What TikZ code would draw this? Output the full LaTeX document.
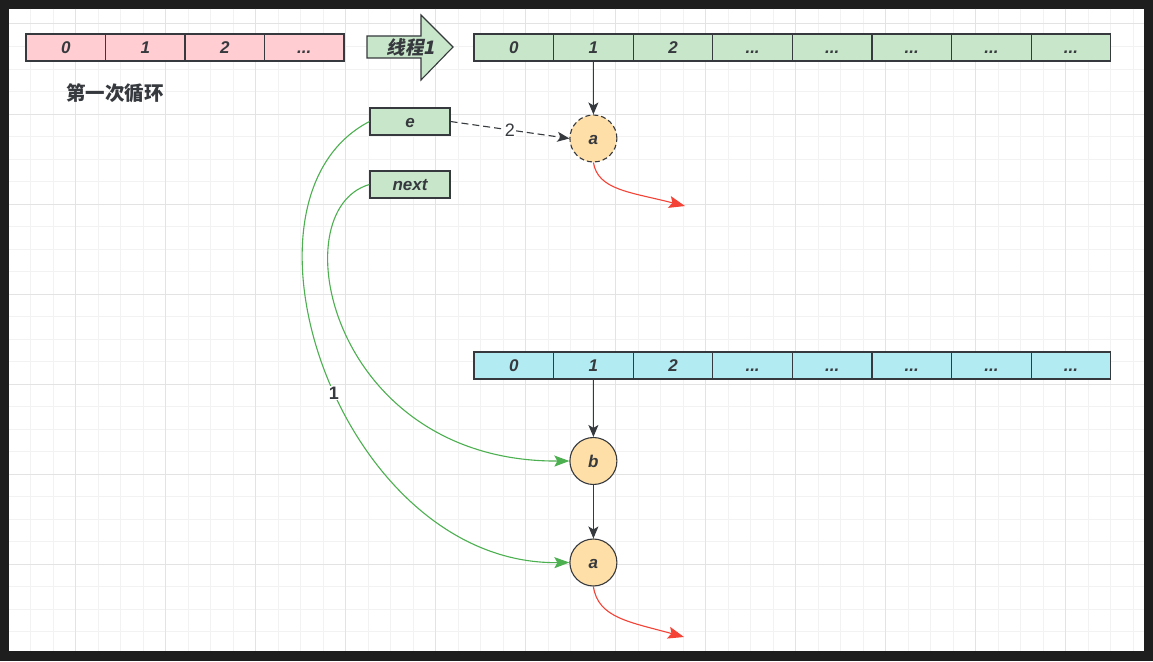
\documentclass[tikz,border=0pt]{standalone}
\usepackage{fontspec}
\newfontfamily\lblfont[BoldFeatures={FakeSlant=0.2}]{Noto Sans CJK SC}
\newfontfamily\plainfont{Noto Sans CJK SC}
\newfontfamily\latfont{Liberation Sans}
\usetikzlibrary{arrows.meta}
\newcommand\mydots{...}
\definecolor{frame}{HTML}{1E1E1E}
\definecolor{gminor}{HTML}{F2F2F2}
\definecolor{gmajor}{HTML}{E3E3E3}
\definecolor{lc}{HTML}{36393D}
\definecolor{pinkf}{HTML}{FFCDD2}
\definecolor{greenf}{HTML}{C8E6C9}
\definecolor{bluef}{HTML}{B2EBF2}
\definecolor{orangef}{HTML}{FFDFA8}
\definecolor{redl}{HTML}{F44336}
\definecolor{greenl}{HTML}{4CAF50}
\tikzset{
  lbl/.style={font=\latfont\bfseries\itshape\fontsize{17}{17}\selectfont, text=lc, text height=13pt, text depth=0.8pt},
  cell/.style={draw=lc, line width=1.1pt, minimum width=79.6pt, minimum height=27pt, inner sep=0pt, lbl},
  circ/.style={circle, draw=lc, line width=1.1pt, fill=orangef, minimum size=47pt, inner sep=0pt, lbl},
  blk/.style={draw=lc, line width=1.1pt, -{Stealth[length=12pt,width=10pt,inset=3pt]}},
  redarr/.style={draw=redl, line width=1.1pt, -{Stealth[length=16pt,width=12pt,inset=3pt]}},
  grnarr/.style={draw=greenl, line width=1.1pt, -{Stealth[length=15pt,width=11pt,inset=3pt]}},
  minorg/.style={draw=gminor, line width=1pt},
  majorg/.style={draw=gmajor, line width=1pt},
  elbl/.style={fill=white, inner sep=1pt, text=lc},
}
\begin{document}
\begin{tikzpicture}[x=1pt,y=-1pt]
% frame and background
\fill[frame] (0,0) rectangle (1153,661);
\fill[white] (9,9) rectangle (1144,651);
\useasboundingbox (0,0) rectangle (1153,661);
% grid
\foreach \k in {1,...,50} {\draw[minorg] ({8+22.5*\k},9) -- ({8+22.5*\k},651);}
\foreach \k in {0,...,27} {\draw[minorg] (9,{24+22.5*\k}) -- (1144,{24+22.5*\k});}
\foreach \k in {3,7,...,47} {\draw[majorg] ({8+22.5*\k},9) -- ({8+22.5*\k},651);}
\foreach \k in {0,4,...,24} {\draw[majorg] (9,{24+22.5*\k}) -- (1144,{24+22.5*\k});}
% pink array
\foreach \t [count=\i from 0] in {0,1,2,\mydots} {
  \node[cell, fill=pinkf, minimum width=79.5pt] (p\i) at ({26+79.5*\i+39.75},47.5) {\t};
}
\node[font=\plainfont\bfseries\fontsize{19.5}{19.5}\selectfont, text=lc] (title) at (115,93) {第一次循环};
% thread arrow
\draw[draw=lc, line width=1.1pt, fill=greenf] (367,36) -- (421,36) -- (421,15) -- (453,47) -- (421,80) -- (421,58) -- (367,58) -- cycle;
\node[font=\lblfont\bfseries\fontsize{18.5}{18.5}\selectfont, text=lc] (thread) at (411,47) {线程1};
% green array
\foreach \t [count=\i from 0] in {0,1,2,\mydots,\mydots,\mydots,\mydots,\mydots} {
  \node[cell, fill=greenf] (g\i) at ({474+79.6*\i+39.8},47.5) {\t};
}
% blue array
\foreach \t [count=\i from 0] in {0,1,2,\mydots,\mydots,\mydots,\mydots,\mydots} {
  \node[cell, fill=bluef] (c\i) at ({474+79.6*\i+39.8},365.5) {\t};
}
% e / next
\node[cell, fill=greenf, minimum width=80pt] (e) at (410,121.5) {e};
\node[cell, fill=greenf, minimum width=80pt] (nx) at (410,184.5) {next};
% circles
\node[circ, dashed, dash pattern=on 5pt off 3pt] (a1) at (593.4,138.5) {a};
\node[circ] (b) at (593.4,461) {b};
\node[circ] (a2) at (593.4,562.5) {a};
\coordinate (r1) at (685,206);
\coordinate (r2) at (684,637);
% connectors
\draw[blk] (g1.south) -- (a1.north);
\draw[blk, dash pattern=on 7pt off 4pt] (e.east) -- node[pos=0.5, elbl, font=\latfont\fontsize{18}{18}\selectfont] (l2) {2} (a1.west);
\draw[redarr] (a1.south) .. controls (598,190) and (630,192) .. (r1);
\draw[blk] (c1.south) -- (b.north);
\draw[blk] (b.south) -- (a2.north);
\draw[redarr] (a2.south) .. controls (598,618) and (630,622) .. (r2);
\draw[grnarr] (e.west) .. controls (218,200) and (340,565) .. (a2.west);
\draw[grnarr] (nx.west) .. controls (280,210) and (330,462) .. (b.west);
\node[elbl, font=\latfont\bfseries\fontsize{18}{18}\selectfont] (l1) at (334,393) {1};
\end{tikzpicture}
\end{document}
